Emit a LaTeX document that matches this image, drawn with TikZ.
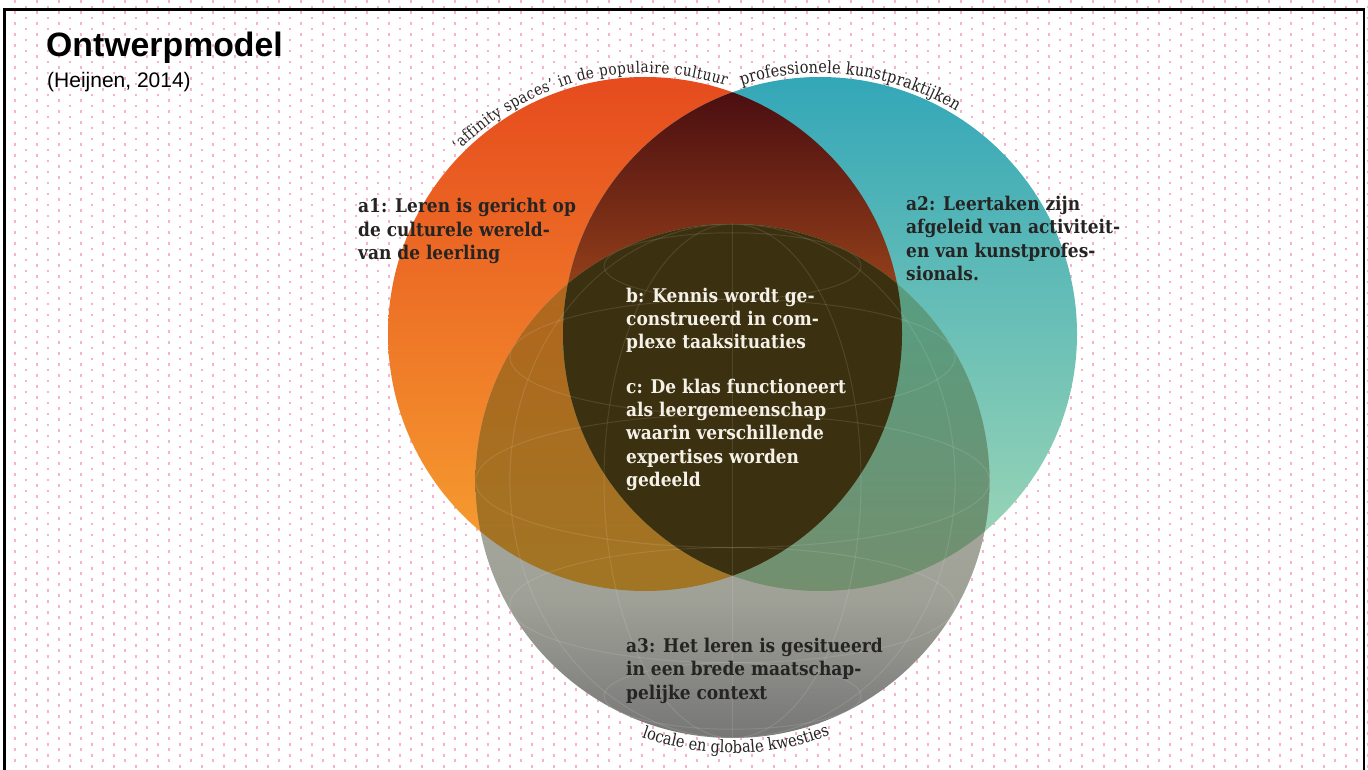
\documentclass[tikz,border=0pt]{standalone}
\usepackage{fontspec}
\setmainfont{Liberation Sans}
\newfontfamily\slabfont{DejaVu Serif}[FakeStretch=0.9]
\newfontfamily\curvefont{DejaVu Serif}[FakeStretch=0.85]
\usetikzlibrary{positioning,decorations.text}

\definecolor{orangetop}{HTML}{E64B1E}
\definecolor{orangebot}{HTML}{F7A431}
\definecolor{tealtop}{HTML}{33A7B8}
\definecolor{tealbot}{HTML}{A4D9B5}
\definecolor{greytop}{HTML}{B6B8AE}
\definecolor{greymid}{HTML}{9FA197}
\definecolor{greybot}{HTML}{767676}
\definecolor{lenstop}{HTML}{4A0D10}
\definecolor{lensbot}{HTML}{94401A}
\definecolor{warmtop}{HTML}{B4631C}
\definecolor{warmbot}{HTML}{A07624}
\definecolor{cooltop}{HTML}{52A084}
\definecolor{coolbot}{HTML}{738F6E}
\definecolor{coreolive}{HTML}{3B300F}
\definecolor{dotpink}{RGB}{250,178,202}
\definecolor{inkdark}{HTML}{262422}
\definecolor{inklight}{HTML}{F5F1E8}

\pgfdeclareverticalshading{globeshade}{100bp}{color(0bp)=(greybot); color(25bp)=(greybot); color(38.5bp)=(greymid); color(75bp)=(greytop); color(100bp)=(greytop)}

\newcommand{\vennr}{257}
\newcommand{\arcfont}{\curvefont\fontsize{17pt}{19pt}\selectfont}
\newcommand{\longarcfont}{\curvefont\fontsize{16pt}{18pt}\selectfont}

\tikzset{
  dotrow/.style={draw=dotpink, line width=2.6pt, dash pattern=on 2.6pt off 19.4pt},
  venntext/.style={anchor=base west, align=left, inner sep=0pt, text=inkdark,
    font=\slabfont\bfseries\fontsize{18.9pt}{23.4pt}\selectfont},
  globeline/.style={draw=white, opacity=0.11, line width=1pt},
  arctext/.style={decorate, decoration={text along path, text align={fit to path}, text color=inkdark}}
}

\begin{document}
\begin{tikzpicture}[x=1pt, y=1pt]
	\useasboundingbox (0,0) rectangle (1368,769);
	\fill[white] (0,0) rectangle (1368,769);

	% dotted background
	\foreach \j in {0,...,69} {
	  \draw[dotrow] (13.7,8.3+11*\j) -- (1368,8.3+11*\j);
	  \draw[dotrow] (24.7,2.8+11*\j) -- (1368,2.8+11*\j);
	}

	\coordinate (L) at (645,435);
	\coordinate (R) at (820,435);
	\coordinate (B) at (732.5,288);

	% the three circles
	\shade[top color=orangetop, bottom color=orangebot] (L) circle[radius=\vennr];
	\shade[top color=tealtop, bottom color=tealbot] (R) circle[radius=\vennr];
	\shade[shading=globeshade] (B) circle[radius=\vennr];

	% overlaps
	\begin{scope}
	  \clip (L) circle[radius=\vennr];
	  \clip (R) circle[radius=\vennr];
	  \shade[top color=lenstop, bottom color=lensbot] (500,480) rectangle (960,680);
	\end{scope}
	\begin{scope}
	  \clip (L) circle[radius=\vennr];
	  \clip (B) circle[radius=\vennr];
	  \shade[top color=warmtop, bottom color=warmbot] (470,178) rectangle (900,545);
	\end{scope}
	\begin{scope}
	  \clip (R) circle[radius=\vennr];
	  \clip (B) circle[radius=\vennr];
	  \shade[top color=cooltop, bottom color=coolbot] (560,178) rectangle (990,545);
	\end{scope}
	\begin{scope}
	  \clip (L) circle[radius=\vennr];
	  \clip (R) circle[radius=\vennr];
	  \fill[coreolive] (B) circle[radius=\vennr];
	\end{scope}

	% faint globe grid
	\begin{scope}
	  \clip (B) circle[radius=\vennr];
	  \draw[globeline] (B) ++(0,\vennr) -- ++(0,-514);
	  \draw[globeline] (B) ellipse[x radius=128.5, y radius=\vennr];
	  \draw[globeline] (B) ellipse[x radius=222.6, y radius=\vennr];
	  \foreach \lat in {-60,-30,0,30,60}
	    \draw[globeline] (B) ++(0,{257*sin(\lat)*cos(15)}) ellipse[x radius={257*cos(\lat)}, y radius={257*cos(\lat)*sin(15)}];
	\end{scope}

	% frame
	\draw[line width=2.5pt] (4.5,-20) rectangle (1364,759.5);

	% titles
	\node[anchor=base west, inner sep=0pt, font=\bfseries\fontsize{33.8pt}{36pt}\selectfont] (title) at (46,712) {Ontwerpmodel};
	\node[anchor=base west, inner sep=0pt, font=\fontsize{21pt}{24pt}\selectfont] (source) at (47,681) {(Heijnen, 2014)};

	% texts along the circles
	\path[arctext, decoration={text={|\longarcfont|‘affinity spaces’ in de populaire cultuur}}]
	  (L) ++(135.5:261) arc[start angle=135.5, end angle=72, radius=261];
	\path[arctext, decoration={text={|\arcfont|professionele kunstpraktijken}}]
	  (R) ++(107.5:261) arc[start angle=107.5, end angle=58.5, radius=261];
	\path[arctext, decoration={text={|\arcfont|locale en globale kwesties}}]
	  (B) ++(250.5:272) arc[start angle=250.5, end angle=291, radius=272];

	% texts in the circles (anchored at the baseline of their last line)
	\node[venntext] (culture) at (358,509.5) {a1: Leren is gericht op\\de culturele wereld-\\van de leerling};
	\node[venntext] (profession) at (906,488.5) {a2: Leertaken zijn\\afgeleid van activiteit-\\en van kunstprofes-\\sionals.};
	\node[venntext, text=inklight] (knowledge) at (626,420) {b: Kennis wordt ge-\\construeerd in com-\\plexe taaksituaties};
	\node[venntext, text=inklight] (community) at (626,282.3) {c: De klas functioneert\\als leergemeenschap\\waarin verschillende\\expertises worden\\gedeeld};
	\node[venntext] (society) at (626,70) {a3: Het leren is gesitueerd\\in een brede maatschap-\\pelijke context};
\end{tikzpicture}
\end{document}
